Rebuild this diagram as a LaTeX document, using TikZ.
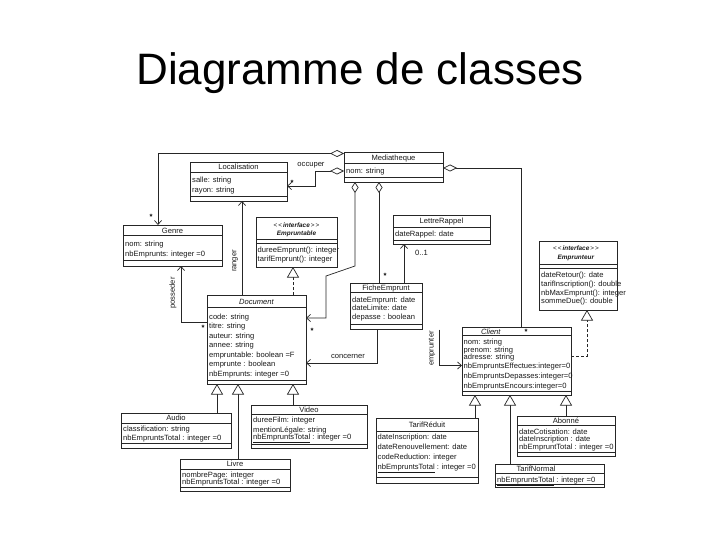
\documentclass[tikz,border=0pt]{standalone}
\usepackage{fontspec}
\setmainfont{Liberation Sans}
\usetikzlibrary{arrows.meta,calc}
\newcommand{\umlbox}[5]{%
 \pgfmathsetmacro\ubw{#4-#2}\pgfmathsetmacro\ubh{#5-#3}%
 \pgfmathsetmacro\ubx{(#2+#4)/2}\pgfmathsetmacro\uby{(#3+#5)/2}%
 \node[cls, minimum width=\ubw pt, minimum height=\ubh pt] (#1) at (\ubx,\uby) {};}
\newcommand{\hsep}[2]{\draw[sep] (#1.west |- 0,#2) -- (#1.east |- 0,#2);}
\newcommand{\utx}[4]{\node[txt] (#1) at (#2,#3) {#4};}
\newcommand{\uttl}[4]{\node[ttl] (#1) at (#2,#3) {#4};}
\newcommand{\sterinterface}{{<}\,{<}\,\textbf{\textit{interface}}\,{>}\,{>}}
\begin{document}
\begin{tikzpicture}[x=1pt,y=-1pt,
 cls/.style={draw=black!85, line width=0.9pt, fill=white, inner sep=0pt, outer sep=0pt},
 sep/.style={draw=black!85, line width=0.6pt},
 txt/.style={font=\fontsize{7.6}{9}\selectfont, text=black!90, inner sep=0pt, anchor=base west},
 ttl/.style={font=\fontsize{7.6}{9}\selectfont, text=black!90, inner sep=0pt, anchor=base},
 ster/.style={font=\fontsize{6.4}{7}\selectfont, text=black!90, inner sep=0pt, anchor=base},
 lbl/.style={font=\fontsize{7.6}{9}\selectfont, text=black!90, inner sep=0pt},
 mult/.style={font=\fontsize{7.6}{9}\selectfont\bfseries, inner sep=0pt},
 conn/.style={draw=black!85, line width=0.7pt},
 nav/.style={conn, -{Straight Barb[length=4pt,width=7pt]}},
 agg/.style={conn, {Diamond[open,fill=white,length=14pt,width=7pt]}-},
 aggnav/.style={conn, {Diamond[open,fill=white,length=14pt,width=7pt]}-{Straight Barb[length=4pt,width=7pt]}},
 aggv/.style={conn, {Diamond[open,fill=white,length=11pt,width=7pt]}-},
 aggvnav/.style={conn, {Diamond[open,fill=white,length=11pt,width=7pt]}-{Straight Barb[length=4pt,width=7pt]}},
 gen/.style={conn, -{Triangle[open,fill=white,length=10.5pt,width=12pt]}},
 real/.style={conn, dash pattern=on 3pt off 2pt, -{Triangle[open,fill=white,length=10.5pt,width=12pt]}},
]
\fill[white] (0,0) rectangle (720,540);
\useasboundingbox (0,0) rectangle (720,540);

\node[font=\fontsize{44}{50}\selectfont, anchor=base, inner sep=0pt] (title) at (360,85) {Diagramme de classes};

% ---------- Mediatheque
\umlbox{med}{344}{152}{443}{182}
\uttl{medT}{393.5}{160.5}{Mediatheque}
\hsep{med}{163.5}
\utx{medA1}{346}{174}{nom: string}
\hsep{med}{177}

% ---------- Localisation
\umlbox{loc}{190}{162}{287}{201}
\uttl{locT}{238.5}{170}{Localisation}
\hsep{loc}{172.5}
\utx{locA1}{192}{182.7}{salle: string}
\utx{locA2}{192}{192.2}{rayon: string}
\hsep{loc}{196.7}

% ---------- Genre
\umlbox{genre}{123}{225}{222}{266}
\uttl{genT}{172.5}{233.2}{Genre}
\hsep{genre}{235.7}
\utx{genA1}{125}{247}{nom: string}
\utx{genA2}{125}{256.4}{nbEmprunts: integer =0}
\hsep{genre}{260}

% ---------- Empruntable
\umlbox{empr}{256}{217}{337}{267}
\node[ster] (emprS) at (296.5,227.2) {\sterinterface};
\node[ster] (emprT) at (296.5,235.5) {\textbf{\textit{Empruntable}}};
\hsep{empr}{239.3}
\hsep{empr}{243.5}
\utx{emprO1}{257.5}{252.7}{dureeEmprunt(): integer}
\utx{emprO2}{257.5}{261.7}{tarifEmprunt(): integer}

% ---------- LettreRappel
\umlbox{lettre}{393}{215}{490}{244}
\uttl{letT}{441.5}{223.7}{LettreRappel}
\hsep{lettre}{227.5}
\utx{letA1}{395}{236.2}{dateRappel: date}
\hsep{lettre}{240}

% ---------- Emprunteur
\umlbox{emp}{539}{241}{617}{310}
\node[ster] (empS) at (576,251) {\sterinterface};
\node[ster] (empT) at (576,259.2) {\textbf{\textit{Emprunteur}}};
\hsep{emp}{264.3}
\hsep{emp}{267.8}
\utx{empO1}{541}{277.7}{dateRetour(): date}
\utx{empO2}{541}{286.7}{tarifInscription(): double}
\utx{empO3}{541}{295.4}{nbMaxEmprunt(): integer}
\utx{empO4}{541}{303.7}{sommeDue(): double}

% ---------- Document
\umlbox{doc}{207}{295}{306}{384}
\uttl{docT}{256.5}{304.2}{\textit{Document}}
\hsep{doc}{307.7}
\utx{docA1}{209}{319.4}{code: string}
\utx{docA2}{209}{328.7}{titre: string}
\utx{docA3}{209}{338.4}{auteur: string}
\utx{docA4}{209}{347.7}{annee: string}
\utx{docA5}{209}{357}{empruntable: boolean =F}
\utx{docA6}{209}{366.7}{emprunte : boolean}
\utx{docA7}{209}{376}{nbEmprunts: integer =0}
\hsep{doc}{380}

% ---------- FicheEmprunt
\umlbox{fiche}{350}{283}{422}{329.5}
\uttl{ficT}{386}{290.8}{FicheEmprunt}
\hsep{fiche}{291.9}
\utx{ficA1}{352}{302}{dateEmprunt: date}
\utx{ficA2}{352}{310.4}{dateLimite: date}
\utx{ficA3}{352}{319.4}{depasse : boolean}
\hsep{fiche}{324.3}

% ---------- Client
\umlbox{client}{462}{327}{571}{395}
\uttl{cliT}{491}{334}{\textit{Client}}
\hsep{client}{335.7}
\utx{cliA1}{463.5}{344.7}{nom: string}
\utx{cliA2}{463.5}{352.7}{prenom: string}
\utx{cliA3}{463.5}{359.9}{adresse: string}
\utx{cliA4}{463.5}{368.9}{nbEmpruntsEffectues:integer=0}
\utx{cliA5}{463.5}{378.5}{nbEmpruntsDepasses:integer=0}
\utx{cliA6}{463.5}{388.2}{nbEmpruntsEncours:integer=0}
\hsep{client}{391}

% ---------- Audio
\umlbox{audio}{121}{413}{231}{448}
\uttl{audT}{176}{420.8}{Audio}
\hsep{audio}{423.3}
\utx{audA1}{123}{431}{classification: string}
\utx{audA2}{123}{440}{\underline{nbEmpruntsTotal} : integer =0}
\hsep{audio}{443.5}

% ---------- Livre
\umlbox{livre}{180}{459}{290}{491}
\uttl{livT}{235}{466.8}{Livre}
\hsep{livre}{469}
\utx{livA1}{182}{477.2}{nombrePage: integer}
\utx{livA2}{182}{484.6}{\underline{nbEmpruntsTotal} : integer =0}
\hsep{livre}{487.5}

% ---------- Video
\umlbox{video}{251}{405}{367}{448}
\uttl{vidT}{309}{412.8}{Video}
\hsep{video}{414.5}
\utx{vidA1}{253}{422.7}{dureeFilm: integer}
\utx{vidA2}{253}{432.5}{mentionLégale: string}
\utx{vidA3}{253}{439.5}{\underline{nbEmpruntsTotal} : integer =0}
\hsep{video}{444.3}

% ---------- TarifReduit
\umlbox{tr}{376}{418}{478}{483}
\uttl{trT}{427}{427.7}{TarifRéduit}
\hsep{tr}{431.5}
\utx{trA1}{377.5}{439.7}{dateInscription: date}
\utx{trA2}{377.5}{449.7}{dateRenouvellement: date}
\utx{trA3}{377.5}{459.7}{codeReduction: integer}
\utx{trA4}{377.5}{469.2}{\underline{nbEmpruntsTotal} : integer =0}
\hsep{tr}{477.7}

% ---------- Abonne
\umlbox{ab}{517}{416}{615}{456}
\uttl{abT}{566}{423.3}{Abonné}
\hsep{ab}{425.5}
\utx{abA1}{519}{434.4}{dateCotisation: date}
\utx{abA2}{519}{441}{dateInscription : date}
\utx{abA3}{519}{449.4}{\underline{nbEmpruntTotal} : integer =0}
\hsep{ab}{452.5}

% ---------- TarifNormal
\umlbox{tn}{495}{464}{604}{487}
\uttl{tnT}{536}{471.6}{TarifNormal}
\hsep{tn}{473}
\utx{tnA1}{497}{482.5}{\underline{nbEmpruntsTotal} : integer =0}
\hsep{tn}{484.5}

% ---------- connectors
\coordinate (dG) at ($(med.north west)+(0,1.5)$);
\draw[aggnav] (dG) -| ([xshift=-14.5pt]genre.north);

\coordinate (dO) at ($(med.north west)+(0,19)$);
\draw[aggnav] (dO) -- ++(-29,0) |- ([yshift=-4.5pt]loc.east);

\coordinate (dD) at ($(med.south west)+(11,0)$);
\draw[aggvnav] (dD) -- ++(0,84) -- ++(-29,10) |- ([yshift=21.5pt]doc.east);

\coordinate (dF) at ($(med.south west)+(35,0)$);
\draw[aggv] (dF) -- (dF |- fiche.north);

\coordinate (fL) at ($(fiche.north west)+(54,0)$);
\draw[nav] (fL) -- (fL |- lettre.south);

\coordinate (fC) at ($(fiche.south west)+(27,0)$);
\draw[nav] (fC) |- ([yshift=-23.5pt]doc.east);

\coordinate (fE) at ($(fiche.south west)+(89,0)$);
\draw[nav] (fE) |- ([yshift=-4.5pt]client.west);

\coordinate (dC) at ($(med.north east)+(0,16)$);
\draw[agg] (dC) -| ([xshift=59pt]client.north west);

\draw[real] ([yshift=5pt]client.east) -| ([xshift=48pt]emp.south west);

\coordinate (dE) at ($(doc.north west)+(86,0)$);
\draw[real] (dE) -- (dE |- empr.south);

\coordinate (dR) at ($(doc.north west)+(35,0)$);
\draw[nav] (dR) -- (dR |- loc.south);

\coordinate (dP) at ($(doc.west)+(0,-17)$);
\draw[nav] (dP) -| ([xshift=8.5pt]genre.south);

\coordinate (gA) at ($(audio.north west)+(96,0)$);
\draw[gen] (gA) -- (gA |- doc.south);
\coordinate (gL) at ($(livre.north west)+(58,0)$);
\draw[gen] (gL) -- (gL |- doc.south);
\coordinate (gV) at ($(video.north west)+(42,0)$);
\draw[gen] (gV) -- (gV |- doc.south);
\coordinate (gT) at ($(tr.north west)+(99,0)$);
\draw[gen] (gT) -- (gT |- client.south);
\coordinate (gN) at ($(tn.north west)+(15,0)$);
\draw[gen] (gN) -- (gN |- client.south);
\coordinate (gB) at ($(ab.north west)+(49,0)$);
\draw[gen] (gB) -- (gB |- client.south);

% ---------- labels
\node[lbl] (lOcc) at (311,165) {occuper};
\node[lbl, rotate=90] (lRan) at (235,261) {ranger};
\node[lbl, rotate=90] (lPos) at (173,293) {posseder};
\node[lbl] (lCon) at (348,356) {concerner};
\node[lbl, rotate=90] (lEmp) at (432,348.5) {emprunter};
\node[lbl] (l01) at (421.5,253) {0..1};

\node[mult] (m1) at (151,217) {*};
\node[mult] (m2) at (292,183) {*};
\node[mult] (m3) at (203,328) {*};
\node[mult] (m4) at (312,331) {*};
\node[mult] (m5) at (385,276) {*};
\node[mult] (m6) at (526,332) {*};
\end{tikzpicture}
\end{document}
